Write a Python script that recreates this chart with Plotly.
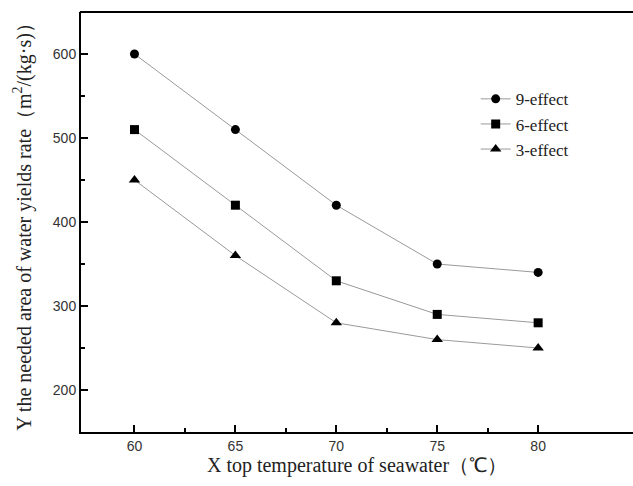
import plotly.graph_objects as go

temps = [60, 65, 70, 75, 80]
effect9 = [600, 510, 420, 350, 340]
effect6 = [510, 420, 330, 290, 280]
effect3 = [450, 360, 280, 260, 250]
series = [("9-effect", effect9, "circle"), ("6-effect", effect6, "square"), ("3-effect", effect3, "triangle-up")]

fig = go.Figure()
for name, vals, sym in series:
    fig.add_trace(go.Scatter(
        x=temps, y=vals, name=name, mode="lines+markers",
        line=dict(color="#9a9a9a", width=1),
        marker=dict(symbol=sym, size=9 if sym != "triangle-up" else 10, color="black"),
    ))

fig.update_layout(
    width=633, height=486,
    margin=dict(l=81, r=0, t=12, b=54),
    paper_bgcolor="white", plot_bgcolor="white",
    showlegend=True,
    legend=dict(x=0.715, y=0.835, xanchor="left", yanchor="top",
                font=dict(family="Liberation Serif", size=17, color="#222"),
                bgcolor="rgba(0,0,0,0)", tracegroupgap=0, itemwidth=30),
    xaxis=dict(range=[57.35, 84.7], tickvals=[60, 65, 70, 75, 80],
               showgrid=False, zeroline=False,
               showline=True, linecolor="black", linewidth=2, mirror=False,
               ticks="inside", ticklen=7, tickwidth=2, tickcolor="black",
               minor=dict(tickvals=[62.5, 67.5, 72.5, 77.5], ticks="inside", ticklen=4, tickwidth=2, tickcolor="black"),
               tickfont=dict(family="Liberation Sans", size=14, color="#333"),
               title=dict(text="X top temperature of seawater（℃）", standoff=5,
                          font=dict(family="Liberation Serif", size=20, color="#222"))),
    yaxis=dict(range=[150, 650], tickvals=[200, 300, 400, 500, 600],
               showgrid=False, zeroline=False,
               showline=True, linecolor="black", linewidth=2, mirror=False,
               ticks="inside", ticklen=7, tickwidth=2, tickcolor="black",
               minor=dict(tickvals=[250, 350, 450, 550], ticks="inside", ticklen=4, tickwidth=2, tickcolor="black"),
               tickfont=dict(family="Liberation Sans", size=14, color="#333"),
               title=dict(text="Y the needed area of water yields rate（m<sup>2</sup>/(kg·s)）", standoff=16,
                          font=dict(family="Liberation Serif", size=20, color="#222"))),
    shapes=[dict(type="line", xref="paper", yref="paper", x0=-0.002, x1=1.0, y0=1, y1=1,
                 line=dict(color="black", width=2))],
)

fig.write_html("out.html")
